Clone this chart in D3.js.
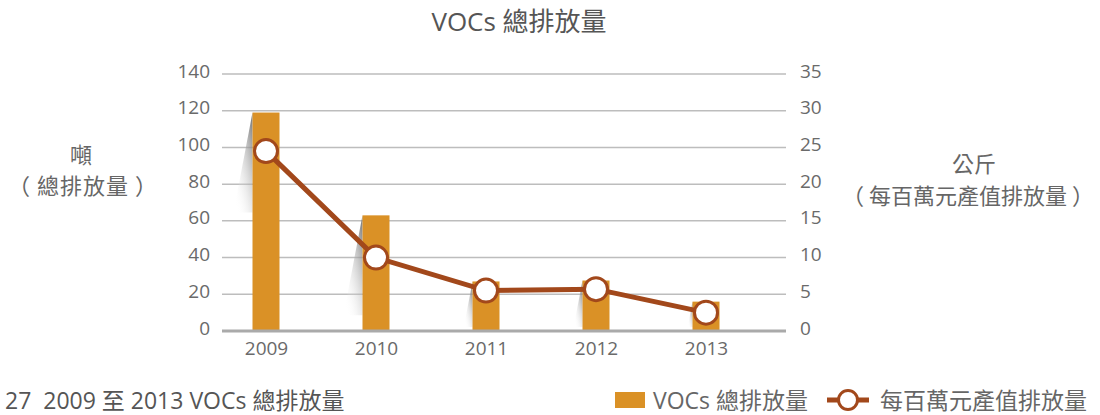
<!DOCTYPE html>
<html>
<head>
<meta charset="utf-8">
<script src="https://cdn.jsdelivr.net/npm/d3@7"></script>
<style>
  body { margin: 0; background: #fff; }
  svg text { font-family: "Open Sans", "Noto Sans CJK TC", sans-serif; fill: #666; white-space: pre; }
  svg text.cjk { font-family: "Noto Sans CJK TC", sans-serif; }
</style>
</head>
<body>
<div id="chart"></div>
<script>
'use strict';

// Data.
var years = ["2009", "2010", "2011", "2012", "2013"];
var totalTons = [119, 63, 27, 27.5, 16];          // bars, left axis (噸)
var perMillion = [24.5, 10, 5.5, 5.7, 2.5];       // line, right axis (公斤)
var leftTicks = [0, 20, 40, 60, 80, 100, 120, 140];
var rightTicks = [0, 5, 10, 15, 20, 25, 30, 35];

var WIDTH = 1100, HEIGHT = 415;
var plotLeft = 222, plotRight = 786, plotTop = 74, plotBottom = 331;
var barWidth = 27;
var barColor = "#da9126";
var lineColor = "#a2481b";

var svg = d3.select("#chart").append("svg")
    .attr("width", WIDTH)
    .attr("height", HEIGHT);

var x = d3.scalePoint().domain(years).range([266, 706]);
var yLeft = d3.scaleLinear().domain([0, 140]).range([plotBottom, plotTop]);
var yRight = d3.scaleLinear().domain([0, 35]).range([plotBottom, plotTop]);

// Shadow gradient
var defs = svg.append("defs");
var grad = defs.append("linearGradient")
    .attr("id", "shadowGrad")
    .attr("x1", "100%").attr("y1", "0%")
    .attr("x2", "20%").attr("y2", "100%");
grad.append("stop").attr("offset", "0%").attr("stop-color", "#6a6a6a").attr("stop-opacity", 0.95);
grad.append("stop").attr("offset", "100%").attr("stop-color", "#ffffff").attr("stop-opacity", 0);

// Title
svg.append("text")
    .attr("x", 519).attr("y", 31)
    .attr("text-anchor", "middle")
    .style("font-size", "26px")
    .style("fill", "#555")
    .text("VOCs 總排放量");

// Grid lines
svg.append("g").selectAll("line")
    .data(leftTicks.slice(1))
    .enter().append("line")
    .attr("x1", plotLeft).attr("x2", plotRight)
    .attr("y1", function (d) { return yLeft(d); })
    .attr("y2", function (d) { return yLeft(d); })
    .style("stroke", "#bdbdbd")
    .style("stroke-width", 1.5);

// Left axis
var leftAxis = svg.append("g")
    .attr("transform", "translate(" + (plotLeft - 12) + ",-3)")
    .call(d3.axisLeft(yLeft).tickValues(leftTicks).tickSize(0).tickPadding(0));
leftAxis.select(".domain").remove();
leftAxis.selectAll("text").style("font-size", "19px").style("fill", "#6a6a6a").attr("font-family", null);

// Right axis
var rightAxis = svg.append("g")
    .attr("transform", "translate(" + (plotRight + 14) + ",-3)")
    .call(d3.axisRight(yRight).tickValues(rightTicks).tickSize(0).tickPadding(0));
rightAxis.select(".domain").remove();
rightAxis.selectAll("text").style("font-size", "19px").style("fill", "#6a6a6a").attr("font-family", null);

// Bottom axis
var bottomAxis = svg.append("g")
    .attr("transform", "translate(0," + plotBottom + ")")
    .call(d3.axisBottom(x).tickSize(0).tickPadding(11));
bottomAxis.select(".domain").remove();
bottomAxis.selectAll("text").style("font-size", "19px").style("fill", "#6a6a6a").attr("font-family", null);

// Shadows behind bars
svg.append("g").selectAll("polygon")
    .data(totalTons)
    .enter().append("polygon")
    .attr("points", function (d, i) {
        var bx = x(years[i]) - barWidth / 2;
        var top = yLeft(d);
        var bottom = Math.min(top + 100, plotBottom - 4);
        var len = bottom - top;
        var dx = len * 0.19;
        return [[bx, top], [bx, bottom], [bx - dx, bottom]].join(" ");
    })
    .style("fill", "url(#shadowGrad)");

// Bars
svg.append("g").selectAll("rect")
    .data(totalTons)
    .enter().append("rect")
    .attr("x", function (d, i) { return x(years[i]) - barWidth / 2; })
    .attr("y", function (d) { return yLeft(d); })
    .attr("width", barWidth)
    .attr("height", function (d) { return plotBottom - yLeft(d); })
    .style("fill", barColor);

// Baseline
svg.append("line")
    .attr("x1", plotLeft).attr("x2", plotRight)
    .attr("y1", plotBottom).attr("y2", plotBottom)
    .style("stroke", "#aaaaaa")
    .style("stroke-width", 3);

// Line series
var line = d3.line()
    .x(function (d, i) { return x(years[i]); })
    .y(function (d) { return yRight(d); });

svg.append("path")
    .datum(perMillion)
    .attr("d", line)
    .style("fill", "none")
    .style("stroke", lineColor)
    .style("stroke-width", 5);

svg.append("g").selectAll("circle")
    .data(perMillion)
    .enter().append("circle")
    .attr("cx", function (d, i) { return x(years[i]); })
    .attr("cy", function (d) { return yRight(d); })
    .attr("r", 11.5)
    .style("fill", "#fff")
    .style("stroke", lineColor)
    .style("stroke-width", 3);

// Axis titles
var leftTitle = svg.append("g").style("font-size", "22px");
leftTitle.append("text").attr("class", "cjk").attr("x", 81).attr("y", 163).attr("text-anchor", "middle").text("噸");
leftTitle.append("text").attr("class", "cjk").attr("x", 83).attr("y", 194).attr("text-anchor", "middle")
    .style("letter-spacing", "1px").text("（ 總排放量 ）");

var rightTitle = svg.append("g").style("font-size", "22px");
rightTitle.append("text").attr("class", "cjk").attr("x", 974).attr("y", 172).attr("text-anchor", "middle").text("公斤");
rightTitle.append("text").attr("class", "cjk").attr("x", 968).attr("y", 204).attr("text-anchor", "middle")
    .text("（ 每百萬元產值排放量 ）");

// Caption
svg.append("text")
    .attr("x", 5).attr("y", 409)
    .style("font-size", "23px")
    .style("fill", "#555")
    .text("27  2009 至 2013 VOCs 總排放量");

// Legend
var legend = svg.append("g").style("font-size", "23px");
legend.append("rect")
    .attr("x", 615).attr("y", 392).attr("width", 30).attr("height", 16)
    .style("fill", barColor);
legend.append("text").attr("x", 653).attr("y", 409).text("VOCs 總排放量");
legend.append("line")
    .attr("x1", 827).attr("x2", 869).attr("y1", 400).attr("y2", 400)
    .style("stroke", lineColor).style("stroke-width", 5);
legend.append("circle")
    .attr("cx", 848).attr("cy", 400).attr("r", 9.5)
    .style("fill", "#fff").style("stroke", lineColor).style("stroke-width", 3);
legend.append("text").attr("x", 880).attr("y", 409).text("每百萬元產值排放量");
</script>
</body>
</html>
